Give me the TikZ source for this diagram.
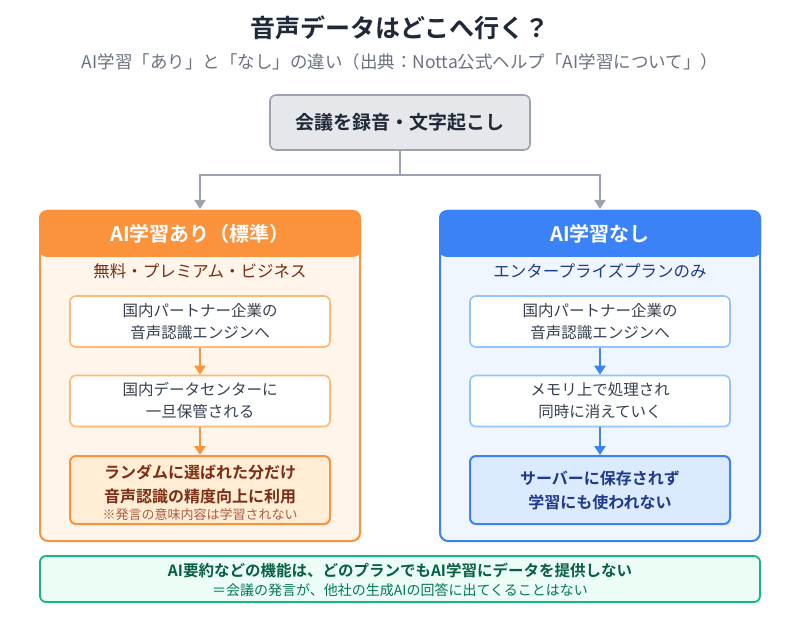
\documentclass[tikz,border=0pt]{standalone}
\usepackage{fontspec}
\setmainfont{Noto Sans CJK JP}[BoldFont={Noto Sans CJK JP Bold}]
\usetikzlibrary{arrows.meta,positioning}
\definecolor{ttl}{HTML}{1F2937}
\definecolor{sub}{HTML}{6B7280}
\definecolor{gfill}{HTML}{E5E7EB}
\definecolor{gline}{HTML}{9CA3AF}
\definecolor{orA}{HTML}{FB923C}
\definecolor{orB}{HTML}{FDBA74}
\definecolor{orC}{HTML}{FFEDD5}
\definecolor{orD}{HTML}{FFF5EB}
\definecolor{orT}{HTML}{7C2D12}
\definecolor{orN}{HTML}{9A3412}
\definecolor{blA}{HTML}{3B82F6}
\definecolor{blB}{HTML}{93C5FD}
\definecolor{blC}{HTML}{DBEAFE}
\definecolor{blD}{HTML}{EFF6FF}
\definecolor{blT}{HTML}{1E3A8A}
\definecolor{grA}{HTML}{10B981}
\definecolor{grD}{HTML}{ECFDF5}
\definecolor{grT}{HTML}{065F46}
\definecolor{grN}{HTML}{047857}
\definecolor{body}{HTML}{374151}
\tikzset{
  fs/.style={font=\fontsize{#1}{#1}\selectfont},
  fsb/.style={font=\bfseries\fontsize{#1}{#1}\selectfont},
  panel/.style={draw=#1, line width=2pt, rounded corners=8pt, inner sep=0pt},
  stepbox/.style={draw=#1, line width=1.6pt, fill=white, rounded corners=6pt, minimum width=260pt, minimum height=51pt, align=center, text=body, font=\fontsize{15.5}{22}\selectfont},
  garrow/.style={draw=gline, line width=2.5pt, -{Triangle[length=9pt,width=11pt]}},
  oarrow/.style={draw=orA, line width=2.5pt, -{Triangle[length=9pt,width=11pt]}},
  barrow/.style={draw=blA, line width=2.5pt, -{Triangle[length=9pt,width=11pt]}},
}
\begin{document}
\begin{tikzpicture}[x=1pt,y=-1pt]
\useasboundingbox (0,0) rectangle (800,620);
\fill[white] (0,0) rectangle (800,620);
% title
\node[fsb=25, text=ttl] (title) at (400,28) {音声データはどこへ行く？};
\node[fs=17.5, text=sub] (subtitle) at (400,62) {AI学習「あり」と「なし」の違い（出典：Notta公式ヘルプ「AI学習について」）};
% top box
\node[draw=gline, fill=gfill, line width=1.6pt, rounded corners=6pt, minimum width=260pt, minimum height=55pt, fsb=19, text=ttl] (top) at (400,122.5) {会議を録音・文字起こし};
% panels
\draw[panel=orA, fill=orD] (40,211) rectangle (360,541);
\draw[panel=blA, fill=blD] (440,211) rectangle (760,541);
\fill[orA, rounded corners=8pt] (39,210) rectangle (361,257);
\fill[blA, rounded corners=8pt] (439,210) rectangle (761,257);
\node[text=white, fsb=20] (lhead) at (200,234) {AI学習あり（標準）};
\node[text=white, fsb=20] (rhead) at (600,234) {AI学習なし};
\coordinate (lin) at (200,209);
\coordinate (rin) at (600,209);
\node[text=orT, fs=16.5] (lsub) at (200,271) {無料・プレミアム・ビジネス};
\node[text=blT, fs=16.5] (rsub) at (600,271) {エンタープライズプランのみ};
% left steps
\node[stepbox=orB] (l1) at (200,321.5) {国内パートナー企業の\\音声認識エンジンへ};
\node[stepbox=orB] (l2) at (200,401) {国内データセンターに\\一旦保管される};
\node[stepbox=orA, fill=orC, minimum height=68pt, line width=2pt] (l3) at (200,490) {};
\node[text=orT, font=\bfseries\fontsize{16}{24}\selectfont, align=center] (l3a) at (200,484) {ランダムに選ばれた分だけ\\音声認識の精度向上に利用};
\node[text=orN!80!white, fs=13] (l3b) at (200,515) {※発言の意味内容は学習されない};
% right steps
\node[stepbox=blB] (r1) at (600,321.5) {国内パートナー企業の\\音声認識エンジンへ};
\node[stepbox=blB] (r2) at (600,401) {メモリ上で処理され\\同時に消えていく};
\node[stepbox=blA, fill=blC, minimum height=68pt, line width=2pt, text=blT, font=\bfseries\fontsize{16}{24}\selectfont] (r3) at (600,490) {サーバーに保存されず\\学習にも使われない};
% arrows
\draw[garrow] (top.south) -- (400,175) -| (lin);
\draw[garrow] (400,175) -| (rin);
\draw[oarrow] (l1.south) -- (l2.north);
\draw[oarrow] (l2.south) -- (l3.north);
\draw[barrow] (r1.south) -- (r2.north);
\draw[barrow] (r2.south) -- (r3.north);
% bottom
\draw[draw=grA, fill=grD, line width=1.8pt, rounded corners=6pt] (40,556) rectangle (760,602);
\node[text=grT, fsb=15.5] (b1) at (400,570) {AI要約などの機能は、どのプランでもAI学習にデータを提供しない};
\node[text=grN, fs=14] (b2) at (400,590) {＝会議の発言が、他社の生成AIの回答に出てくることはない};
\end{tikzpicture}
\end{document}
